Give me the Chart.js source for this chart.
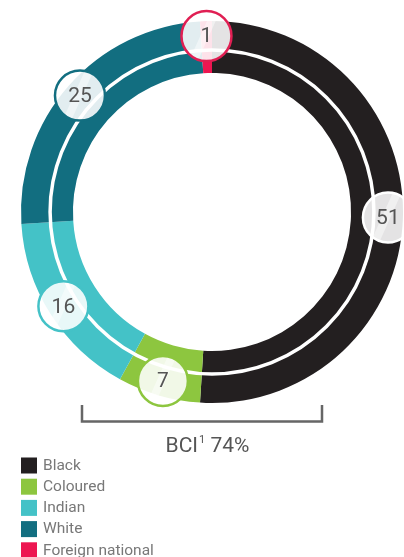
<!DOCTYPE html>
<html>
<head>
<meta charset="utf-8">
<script src="https://cdn.jsdelivr.net/npm/chart.js@4/dist/chart.umd.min.js"></script>
<style>
  html, body { margin: 0; padding: 0; background: #fff; }
  #wrap { position: relative; width: 404px; height: 557px; }
</style>
</head>
<body>
<div id="wrap"><canvas id="c" width="404" height="557"></canvas></div>
<script>
const categories = ['Black', 'Coloured', 'Indian', 'White', 'Foreign national'];
const values = [51, 7, 16, 25, 1];
const valueLabels = ['51', '7', '16', '25', '1'];
const ringColors = ['#231F20', '#8DC63F', '#44C2C7', '#126E80', '#ED1651'];
const labelBorderColors = ['#ffffff', '#8DC63F', '#44C2C7', '#126E80', '#E01F53'];
const bciText = 'BCI';
const bciSup = '1';
const bciValue = ' 74%';

const overlay = {
  id: 'overlay',
  afterDatasetsDraw(chart) {
    const ctx = chart.ctx;
    const meta = chart.getDatasetMeta(0);
    const arc0 = meta.data[0];
    const cx = arc0.x, cy = arc0.y;
    const outerR = arc0.outerRadius, innerR = arc0.innerRadius;
    // white separator ring
    ctx.save();
    ctx.beginPath();
    ctx.arc(cx, cy, innerR + (outerR - innerR) * 0.44, 0, Math.PI * 2);
    ctx.strokeStyle = '#ffffff';
    ctx.lineWidth = 3.5;
    ctx.stroke();
    ctx.restore();

    // label bubbles
    const labR = outerR - 15;
    meta.data.forEach((arc, i) => {
      const mid = (arc.startAngle + arc.endAngle) / 2;
      const x = cx + Math.cos(mid) * labR;
      const y = cy + Math.sin(mid) * labR;
      const r = 25;
      ctx.save();
      ctx.beginPath();
      ctx.arc(x, y, r, 0, Math.PI * 2);
      ctx.fillStyle = 'rgba(255,255,255,0.88)';
      ctx.fill();
      // glare
      ctx.save();
      ctx.clip();
      ctx.beginPath();
      ctx.moveTo(x + r * 0.2, y - r);
      ctx.lineTo(x + r * 0.55, y - r);
      ctx.lineTo(x - r * 0.35, y + r);
      ctx.lineTo(x - r * 0.7, y + r);
      ctx.closePath();
      ctx.fillStyle = 'rgba(255,255,255,0.45)';
      ctx.fill();
      ctx.restore();
      ctx.beginPath();
      ctx.arc(x, y, r, 0, Math.PI * 2);
      ctx.strokeStyle = labelBorderColors[i];
      ctx.lineWidth = 2.5;
      ctx.stroke();
      ctx.fillStyle = '#555555';
      ctx.font = '400 21px Roboto';
      ctx.textAlign = 'center';
      ctx.textBaseline = 'middle';
      ctx.fillText(valueLabels[i], x, y + 1);
      ctx.restore();
    });
  },
  afterDraw(chart) {
    const ctx = chart.ctx;
    // bracket
    ctx.save();
    ctx.strokeStyle = '#666666';
    ctx.lineWidth = 2.5;
    ctx.beginPath();
    ctx.moveTo(82, 405);
    ctx.lineTo(82, 421.5);
    ctx.lineTo(322, 421.5);
    ctx.lineTo(322, 405);
    ctx.stroke();

    // BCI text
    ctx.fillStyle = '#555555';
    ctx.textBaseline = 'alphabetic';
    ctx.font = '400 21px Roboto';
    const w1 = ctx.measureText(bciText).width;
    ctx.font = '400 11px Roboto';
    const w2 = ctx.measureText(bciSup).width;
    ctx.font = '400 21px Roboto';
    const w3 = ctx.measureText(bciValue).width;
    const total = w1 + w2 + 1 + w3;
    let x = 207.5 - total / 2;
    ctx.textAlign = 'left';
    ctx.fillText(bciText, x, 452);
    x += w1 + 1;
    ctx.font = '400 11px Roboto';
    ctx.fillText(bciSup, x, 443);
    x += w2;
    ctx.font = '400 21px Roboto';
    ctx.fillText(bciValue, x, 452);

    // legend
    categories.forEach((c, i) => {
      const yc = 465.5 + i * 21.2;
      ctx.fillStyle = ringColors[i];
      ctx.fillRect(21, yc - 8, 16, 16);
      ctx.fillStyle = '#787878';
      ctx.font = '400 15.5px Roboto';
      ctx.textBaseline = 'middle';
      ctx.fillText(c, 43, yc + 0.5);
    });
    ctx.restore();
  }
};

new Chart(document.getElementById('c'), {
  type: 'doughnut',
  data: {
    labels: categories,
    datasets: [{
      data: values,
      backgroundColor: ringColors,
      borderWidth: 0
    }]
  },
  options: {
    responsive: false,
    animation: false,
    cutout: '72.8%',
    rotation: 0,
    layout: { padding: { left: 21, right: 1, top: 21, bottom: 154 } },
    plugins: {
      legend: { display: false },
      tooltip: { enabled: false }
    }
  },
  plugins: [overlay]
});
</script>
</body>
</html>
